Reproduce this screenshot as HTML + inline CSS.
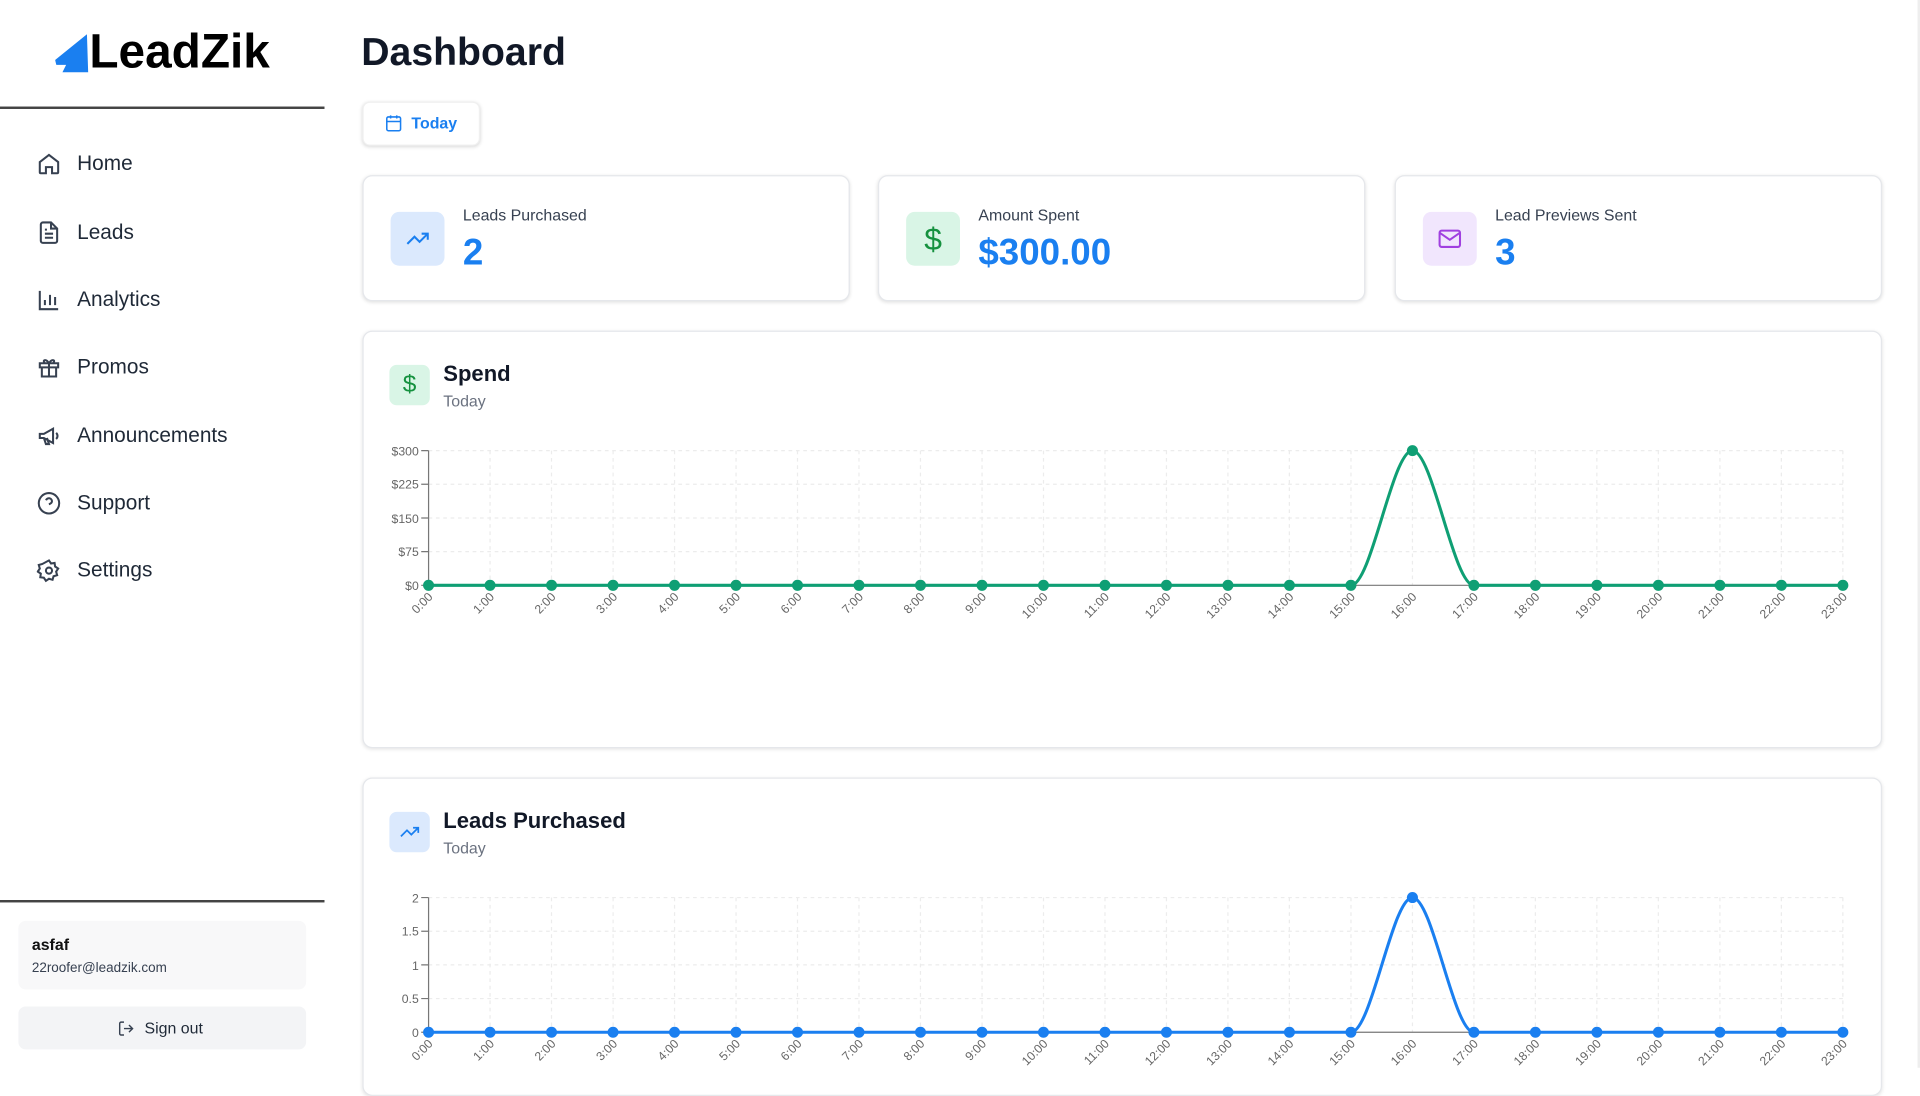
<!DOCTYPE html>
<html><head><meta charset="utf-8"><style>
*{box-sizing:border-box;margin:0;padding:0}
html,body{width:1920px;height:1068px;overflow:hidden;background:#fff;font-family:"Liberation Sans",sans-serif}
#w{position:absolute;left:0;top:0;width:1568px;height:872px;transform:scale(1.22449);transform-origin:0 0;background:#fff}
.a{position:absolute}
.nav{position:absolute;left:30px;font-size:17px;color:#1f2937}
.nav svg{position:absolute;left:0;top:-10px}
.nav span{position:absolute;left:33px;top:-10px;white-space:nowrap}
.card{position:absolute;top:143px;width:398px;height:103px;border:1px solid #e5e7eb;border-radius:8px;box-shadow:0 1px 3px rgba(0,0,0,.12);background:#fff}
.ib{position:absolute;left:22px;top:29px;width:44px;height:44px;border-radius:7px}
.lb{position:absolute;left:81px;top:24px;font-size:13px;color:#374151}
.vl{position:absolute;left:81px;top:46px;font-size:30px;font-weight:bold;color:#1a7ff0}
.panel{position:absolute;left:296px;width:1241px;border:1px solid #e5e7eb;border-radius:8px;box-shadow:0 1px 3px rgba(0,0,0,.1);background:#fff}
</style></head><body><div id="w">
<div class="a" style="left:1566px;top:0;width:2px;height:872px;background:#eee"></div>
<svg class="a" style="left:45px;top:27px" width="30" height="33" viewBox="0 0 30 33"><path d="M0 22 L26 1 L27 32 L6 32 L9 26 L1 26Z" fill="#1a7ff0"/></svg>
<div class="a" style="left:73px;top:21px;font-size:39px;font-weight:bold;color:#000">LeadZik</div>
<div class="a" style="left:0;top:87px;width:265px;height:2px;background:#444"></div>
<div class="nav" style="top:134px"><svg width="20" height="20" viewBox="0 0 24 24" fill="none" stroke="#374151" stroke-width="2"><path d="M3 10l9-7 9 7v10a1 1 0 0 1-1 1h-5v-6H9v6H4a1 1 0 0 1-1-1z"/></svg><span>Home</span></div>
<div class="nav" style="top:190px"><svg width="20" height="20" viewBox="0 0 24 24" fill="none" stroke="#374151" stroke-width="2"><path d="M14 2H6a2 2 0 0 0-2 2v16a2 2 0 0 0 2 2h12a2 2 0 0 0 2-2V8z M14 2v6h6 M8 13h8 M8 17h8 M8 9h2"/></svg><span>Leads</span></div>
<div class="nav" style="top:245px"><svg width="20" height="20" viewBox="0 0 24 24" fill="none" stroke="#374151" stroke-width="2"><path d="M3 3v18h18 M8 17v-5 M13 17V7 M18 17v-8"/></svg><span>Analytics</span></div>
<div class="nav" style="top:300px"><svg width="20" height="20" viewBox="0 0 24 24" fill="none" stroke="#374151" stroke-width="2"><path d="M3 8h18v4H3z M5 12v9h14v-9 M12 8v13 M12 8C9 3 5 5 8 8 M12 8c3-5 7-3 4 0"/></svg><span>Promos</span></div>
<div class="nav" style="top:356px"><svg width="20" height="20" viewBox="0 0 24 24" fill="none" stroke="#374151" stroke-width="2"><path d="M3 10v4h4l9 5V5L7 10z M7 14l2 6h3l-2-6 M19 9a4 4 0 0 1 0 6"/></svg><span>Announcements</span></div>
<div class="nav" style="top:411px"><svg width="20" height="20" viewBox="0 0 24 24" fill="none" stroke="#374151" stroke-width="2"><circle cx="12" cy="12" r="10"/><path d="M9.1 9a3 3 0 0 1 5.8 1c0 2-3 3-3 3 M12 17h.01"/></svg><span>Support</span></div>
<div class="nav" style="top:466px"><svg width="20" height="20" viewBox="0 0 24 24" fill="none" stroke="#374151" stroke-width="2"><circle cx="12" cy="12" r="3"/><path d="M12 2l2 3 3.5-.5.5 3.5 3 2-2 3 1 3.5-3.5 1-1 3.5-3.5-1-3 2-2-3-3.5-.5.5-3.5-3-2 2-3-1-3.5 3.5-1z"/></svg><span>Settings</span></div>
<div class="a" style="left:0;top:735px;width:265px;height:2px;background:#444"></div>
<div class="a" style="left:15px;top:752px;width:235px;height:56px;background:#f8f8f9;border-radius:6px"></div>
<div class="a" style="left:26px;top:764px;font-size:13px;font-weight:bold;color:#111">asfaf</div>
<div class="a" style="left:26px;top:785px;font-size:11px;color:#374151">22roofer@leadzik.com</div>
<div class="a" style="left:15px;top:822px;width:235px;height:35px;background:#f3f4f6;border-radius:6px"></div>
<svg class="a" style="left:96px;top:833px" width="14" height="14" viewBox="0 0 24 24" fill="none" stroke="#374151" stroke-width="2"><path d="M9 21H5a2 2 0 0 1-2-2V5a2 2 0 0 1 2-2h4 M16 17l5-5-5-5 M21 12H9"/></svg>
<div class="a" style="left:118px;top:832px;font-size:13px;color:#1f2937">Sign out</div>
<div class="a" style="left:295px;top:24px;font-size:32px;font-weight:bold;color:#111827">Dashboard</div>
<div class="a" style="left:296px;top:83px;width:96px;height:36px;border-radius:6px;box-shadow:0 1px 3px rgba(0,0,0,.15);border:1px solid #f0f0f0;background:#fff"></div>
<svg class="a" style="left:314px;top:93px" width="15" height="15" viewBox="0 0 24 24" fill="none" stroke="#1a7ff0" stroke-width="2"><rect x="3" y="4" width="18" height="18" rx="2"/><path d="M16 2v4 M8 2v4 M3 10h18"/></svg>
<div class="a" style="left:336px;top:93px;font-size:13px;font-weight:bold;color:#1a7ff0">Today</div>
<div class="card" style="left:296px"><div class="ib" style="background:#dbe9fd"><svg style="position:absolute;left:12px;top:12px" width="20" height="20" viewBox="0 0 24 24" fill="none" stroke="#1a7ff0" stroke-width="2"><path d="M2 17l7-7 5 5 8-8 M16 7h6v6"/></svg></div><div class="lb">Leads Purchased</div><div class="vl">2</div></div>
<div class="card" style="left:717px"><div class="ib" style="background:#d9f5e6"><div style="position:absolute;left:0;width:44px;top:7px;text-align:center;font-size:26px;color:#15913f">$</div></div><div class="lb">Amount Spent</div><div class="vl">$300.00</div></div>
<div class="card" style="left:1139px"><div class="ib" style="background:#f1e6fd"><svg style="position:absolute;left:12px;top:12px" width="20" height="20" viewBox="0 0 24 24" fill="none" stroke="#a040e0" stroke-width="2"><rect x="2" y="4" width="20" height="16" rx="2"/><path d="M2 6l10 7 10-7"/></svg></div><div class="lb">Lead Previews Sent</div><div class="vl">3</div></div>
<div class="panel" style="top:270px;height:341px"></div>
<div class="panel" style="top:635px;height:260px"></div>
<div class="a" style="left:318px;top:298px;width:33px;height:33px;border-radius:6px;background:#d9f5e6;text-align:center;font-size:20px;line-height:33px;color:#15913f">$</div>
<div class="a" style="left:362px;top:295px;font-size:18px;font-weight:bold;color:#111827">Spend</div>
<div class="a" style="left:362px;top:320px;font-size:13px;color:#6b7280">Today</div>
<div class="a" style="left:318px;top:663px;width:33px;height:33px;border-radius:6px;background:#dbe9fd"><svg style="position:absolute;left:8px;top:8px" width="17" height="17" viewBox="0 0 24 24" fill="none" stroke="#1a7ff0" stroke-width="2"><path d="M2 17l7-7 5 5 8-8 M16 7h6v6"/></svg></div>
<div class="a" style="left:362px;top:660px;font-size:18px;font-weight:bold;color:#111827">Leads Purchased</div>
<div class="a" style="left:362px;top:685px;font-size:13px;color:#6b7280">Today</div>
<svg class="a" style="left:0;top:0" width="1568" height="872" font-family="Liberation Sans,sans-serif" font-size="10" fill="#666">
<defs>
<g id="grid" stroke="#ececec" stroke-dasharray="3 3" fill="none">
<path d="M350 0H1505M350 27.5H1505M350 55H1505M350 82.5H1505"/>
<path d="M400.2 0v110M450.4 0v110M500.7 0v110M550.9 0v110M601.1 0v110M651.3 0v110M701.5 0v110M751.7 0v110M802 0v110M852.2 0v110M902.4 0v110M952.6 0v110M1002.8 0v110M1053 0v110M1103.3 0v110M1153.5 0v110M1203.7 0v110M1253.9 0v110M1304.1 0v110M1354.3 0v110M1404.6 0v110M1454.8 0v110M1505 0v110"/>
</g>
<g id="ax" stroke="#777" fill="none"><path d="M350 0V110H1505M344 0H350M344 27.5H350M344 55H350M344 82.5H350M344 110H350"/></g>
</defs>
<use href="#grid" y="368"/><use href="#ax" y="368"/>
<use href="#grid" y="733"/><use href="#ax" y="733"/>
<g text-anchor="end"><text x="342" y="372">$300</text><text x="342" y="399">$225</text><text x="342" y="427">$150</text><text x="342" y="454">$75</text><text x="342" y="482">$0</text>
<text x="342" y="737">2</text><text x="342" y="764">1.5</text><text x="342" y="792">1</text><text x="342" y="819">0.5</text><text x="342" y="847">0</text></g>
<g fill="none" stroke-width="2.5"><path stroke="#0f9f74" d="M350 478H1103.3C1120 478 1137 368 1153.5 368C1170 368 1187 478 1203.7 478H1505"/>
<path stroke="#1a7ff0" d="M350 843H1103.3C1120 843 1137 733 1153.5 733C1170 733 1187 843 1203.7 843H1505"/></g>
<g fill="none" stroke-width="9" stroke-linecap="round" stroke-dasharray="0 50.217">
<path stroke="#0f9f74" d="M350 478H1104M1203.7 478H1506"/><path stroke="#1a7ff0" d="M350 843H1104M1203.7 843H1506"/></g>
<circle cx="1153.5" cy="368" r="4.5" fill="#0f9f74"/><circle cx="1153.5" cy="733" r="4.5" fill="#1a7ff0"/>
<g text-anchor="end">
<text transform="translate(354,488) rotate(-45)">0:00</text><text transform="translate(404.2,488) rotate(-45)">1:00</text><text transform="translate(454.4,488) rotate(-45)">2:00</text><text transform="translate(504.7,488) rotate(-45)">3:00</text><text transform="translate(554.9,488) rotate(-45)">4:00</text><text transform="translate(605.1,488) rotate(-45)">5:00</text><text transform="translate(655.3,488) rotate(-45)">6:00</text><text transform="translate(705.5,488) rotate(-45)">7:00</text><text transform="translate(755.7,488) rotate(-45)">8:00</text><text transform="translate(806,488) rotate(-45)">9:00</text><text transform="translate(856.2,488) rotate(-45)">10:00</text><text transform="translate(906.4,488) rotate(-45)">11:00</text><text transform="translate(956.6,488) rotate(-45)">12:00</text><text transform="translate(1006.8,488) rotate(-45)">13:00</text><text transform="translate(1057,488) rotate(-45)">14:00</text><text transform="translate(1107.3,488) rotate(-45)">15:00</text><text transform="translate(1157.5,488) rotate(-45)">16:00</text><text transform="translate(1207.7,488) rotate(-45)">17:00</text><text transform="translate(1257.9,488) rotate(-45)">18:00</text><text transform="translate(1308.1,488) rotate(-45)">19:00</text><text transform="translate(1358.3,488) rotate(-45)">20:00</text><text transform="translate(1408.6,488) rotate(-45)">21:00</text><text transform="translate(1458.8,488) rotate(-45)">22:00</text><text transform="translate(1509,488) rotate(-45)">23:00</text>
</g>
<g text-anchor="end">
<text transform="translate(354,853) rotate(-45)">0:00</text><text transform="translate(404.2,853) rotate(-45)">1:00</text><text transform="translate(454.4,853) rotate(-45)">2:00</text><text transform="translate(504.7,853) rotate(-45)">3:00</text><text transform="translate(554.9,853) rotate(-45)">4:00</text><text transform="translate(605.1,853) rotate(-45)">5:00</text><text transform="translate(655.3,853) rotate(-45)">6:00</text><text transform="translate(705.5,853) rotate(-45)">7:00</text><text transform="translate(755.7,853) rotate(-45)">8:00</text><text transform="translate(806,853) rotate(-45)">9:00</text><text transform="translate(856.2,853) rotate(-45)">10:00</text><text transform="translate(906.4,853) rotate(-45)">11:00</text><text transform="translate(956.6,853) rotate(-45)">12:00</text><text transform="translate(1006.8,853) rotate(-45)">13:00</text><text transform="translate(1057,853) rotate(-45)">14:00</text><text transform="translate(1107.3,853) rotate(-45)">15:00</text><text transform="translate(1157.5,853) rotate(-45)">16:00</text><text transform="translate(1207.7,853) rotate(-45)">17:00</text><text transform="translate(1257.9,853) rotate(-45)">18:00</text><text transform="translate(1308.1,853) rotate(-45)">19:00</text><text transform="translate(1358.3,853) rotate(-45)">20:00</text><text transform="translate(1408.6,853) rotate(-45)">21:00</text><text transform="translate(1458.8,853) rotate(-45)">22:00</text><text transform="translate(1509,853) rotate(-45)">23:00</text>
</g>
</svg>
</div></body></html>
